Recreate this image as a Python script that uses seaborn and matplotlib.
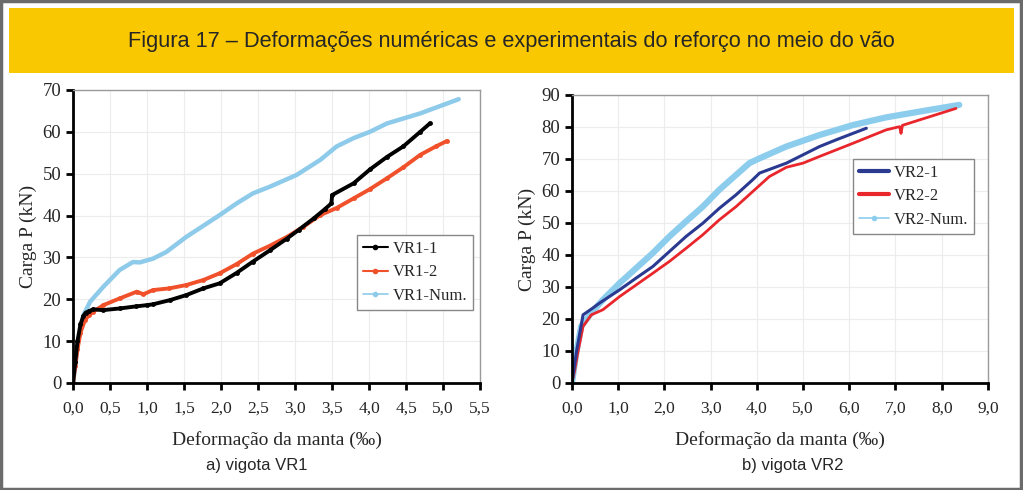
import pandas as pd
import matplotlib.pyplot as plt
import seaborn as sns
from matplotlib.lines import Line2D
from matplotlib.patches import Rectangle
from matplotlib.ticker import FuncFormatter

# dados - vigota VR1
vr1_1_x = [0, 0.03, 0.06, 0.1, 0.14, 0.17, 0.22, 0.27, 0.4, 0.63, 0.85, 1.0, 1.08, 1.31, 1.53,
           1.76, 1.98, 2.21, 2.43, 2.66, 2.89, 3.05, 3.25, 3.4, 3.49, 3.5, 3.79, 4.01, 4.24,
           4.46, 4.69, 4.82]
vr1_1_y = [0, 5, 10, 14, 16, 16.8, 17.2, 17.6, 17.4, 17.8, 18.3, 18.6, 18.8, 19.8, 21,
           22.6, 23.8, 26.3, 29, 31.7, 34.5, 36.6, 39.3, 41.5, 42.9, 44.9, 47.7, 51, 54,
           56.5, 60, 62]
vr1_2_x = [0, 0.03, 0.06, 0.1, 0.16, 0.22, 0.27, 0.41, 0.63, 0.86, 0.95, 1.08, 1.3, 1.53,
           1.76, 1.98, 2.21, 2.43, 2.66, 2.89, 3.11, 3.34, 3.56, 3.79, 4.01, 4.24, 4.46,
           4.69, 4.9, 5.05]
vr1_2_y = [0, 4, 8, 12, 15, 16.3, 17, 18.6, 20.2, 21.8, 21.2, 22.2, 22.6, 23.4,
           24.6, 26.2, 28.4, 30.9, 32.8, 34.9, 37.3, 40.1, 41.8, 44.1, 46.3, 48.9, 51.5,
           54.5, 56.5, 57.8]
vr1_num_x = [0, 0.03, 0.06, 0.1, 0.14, 0.23, 0.41, 0.63, 0.81, 0.9, 1.08, 1.26, 1.53, 1.98,
             2.21, 2.43, 2.66, 3.02, 3.34, 3.56, 3.79, 4.01, 4.24, 4.69, 5.21]
vr1_num_y = [0, 4, 9, 13, 16.2, 19.4, 23, 27, 28.9, 28.8, 29.7, 31.3, 34.9, 40.1,
             42.9, 45.3, 46.9, 49.7, 53.3, 56.5, 58.5, 60, 62, 64.4, 67.8]

# vigota VR2
vr2_1_x = [0, 0.05, 0.1, 0.17, 0.24, 0.45, 0.6, 1.03, 1.39, 1.75, 2.11, 2.47, 2.83, 3.19,
           3.55, 3.91, 4.06, 4.64, 5.0, 5.36, 5.72, 6.08, 6.37]
vr2_1_y = [0, 5, 10, 15.6, 21.3, 23.4, 25, 29.1, 32.8, 36.4, 41.1, 45.8, 49.9, 54.6,
           58.8, 63.5, 65.6, 68.7, 71.3, 73.9, 76, 78, 79.6]
vr2_2_x = [0, 0.06, 0.12, 0.24, 0.42, 0.67, 1.03, 1.75, 2.11, 2.47, 2.83, 3.19, 3.55, 3.91,
           4.27, 4.64, 5.0, 5.36, 6.08, 6.44, 6.8, 7.09, 7.12, 7.15, 7.52, 8.31]
vr2_2_y = [0, 4, 9, 17.7, 21.3, 22.9, 27, 34.3, 38, 42.1, 46.3, 51, 55.1, 59.8,
           64.5, 67.4, 68.7, 70.8, 74.9, 77, 79.1, 80.1, 78, 80.5, 82.2, 85.8]
vr2_num_x = [0, 0.05, 0.1, 0.2, 0.42, 0.67, 1.03, 1.75, 2.11, 2.47, 2.83, 3.19, 3.55, 3.84,
             4.06, 4.64, 5.36, 6.08, 6.8, 7.52, 8.38]
vr2_num_y = [0, 5, 10, 17.7, 21.9, 26, 31.2, 40.6, 45.8, 50.5, 55.1, 60.4, 65, 68.7,
             70.2, 73.9, 77.5, 80.6, 83, 84.8, 86.9]

titulo = "Figura 17 – Deformações numéricas e experimentais do reforço no meio do vão"
xlabel = "Deformação da manta (‰)"
ylabel = "Carga P (kN)"

sns.set_style("whitegrid")
plt.rcParams['font.family'] = ['Liberation Serif', 'DejaVu Serif']
SANS = ['Liberation Sans Narrow', 'Liberation Sans', 'DejaVu Sans']

fig = plt.figure(figsize=(10.23, 4.9), dpi=100)

# moldura e faixa amarela do titulo
fig.patches.append(Rectangle((0.001, 0.002), 0.997, 0.995, transform=fig.transFigure,
                             fill=False, edgecolor='#6b6b6b', linewidth=2.5))
fig.patches.append(Rectangle((0.0088, 0.851), 0.9824, 0.1327, transform=fig.transFigure,
                             facecolor='#FAC800', edgecolor='none'))
fig.text(0.5, 0.916, titulo, ha='center', va='center', fontsize=15.7, family=SANS)

ax1 = fig.add_axes([0.0714, 0.2184, 0.398, 0.598])
ax2 = fig.add_axes([0.5591, 0.2184, 0.4066, 0.5878])


def curva(ax, x, y, cor, lw, marker=None, ms=0):
    df = pd.DataFrame({'x': x, 'y': y})
    sns.lineplot(data=df, x='x', y='y', ax=ax, color=cor, linewidth=lw, sort=False,
                 estimator=None, marker=marker, markersize=ms, markeredgewidth=0)


curva(ax1, vr1_num_x, vr1_num_y, '#8ecbea', 3.2)
curva(ax1, vr1_2_x, vr1_2_y, '#f0502a', 2.8, 'o', 3.5)
curva(ax1, vr1_1_x, vr1_1_y, '#000000', 2.8, 'o', 3.5)

curva(ax2, vr2_num_x, vr2_num_y, '#8ccdee', 4.5)
curva(ax2, vr2_2_x, vr2_2_y, '#e8262b', 2.0)
curva(ax2, vr2_1_x, vr2_1_y, '#2b3a91', 2.2)

fmt = FuncFormatter(lambda v, p: f"{v:.1f}".replace('.', ','))

for ax, xmax, xstep, ymax in [(ax1, 5.5, 0.5, 70), (ax2, 9.0, 1.0, 90)]:
    ax.set_xlim(0, xmax)
    ax.set_ylim(0, ymax)
    ax.set_xticks([i * xstep for i in range(int(round(xmax / xstep)) + 1)])
    ax.set_yticks(range(0, ymax + 1, 10))
    ax.xaxis.set_major_formatter(fmt)
    ax.grid(True, color='#ececec', linewidth=0.8)
    for s in ['left', 'bottom']:
        ax.spines[s].set_color('black')
        ax.spines[s].set_linewidth(2)
    for s in ['top', 'right']:
        ax.spines[s].set_color('#9a9a9a')
        ax.spines[s].set_linewidth(1)
    ax.tick_params(axis='both', direction='out', length=5, width=2, color='black',
                   labelsize=12.5, bottom=True, left=True)
    ax.tick_params(axis='y', labelsize=13.5)
    ax.tick_params(axis='x', pad=8)
    ax.set_xlabel(xlabel, fontsize=14, labelpad=10)
    ax.set_ylabel(ylabel, fontsize=14, labelpad=4)

h1 = [Line2D([], [], color='#000000', lw=1.5, marker='o', ms=3),
      Line2D([], [], color='#f0502a', lw=1.5, marker='o', ms=3),
      Line2D([], [], color='#8ecbea', lw=1.2, marker='o', ms=3)]
ax1.legend(h1, ['VR1-1', 'VR1-2', 'VR1-Num.'], loc='upper left',
           bbox_to_anchor=(0.697, 0.505), fontsize=12, frameon=True, fancybox=False,
           edgecolor='#888888', framealpha=1, handlelength=1.5, handletextpad=0.3,
           labelspacing=0.45, borderpad=0.35, borderaxespad=0)

h2 = [Line2D([], [], color='#2b3a91', lw=3),
      Line2D([], [], color='#e8262b', lw=3),
      Line2D([], [], color='#8ccdee', lw=1.2, marker='o', ms=3)]
ax2.legend(h2, ['VR2-1', 'VR2-2', 'VR2-Num.'], loc='upper left',
           bbox_to_anchor=(0.676, 0.778), fontsize=12, frameon=True, fancybox=False,
           edgecolor='#888888', framealpha=1, handlelength=1.8, handletextpad=0.3,
           labelspacing=0.45, borderpad=0.35, borderaxespad=0)

fig.text(0.251, 0.051, "a) vigota VR1", ha='center', va='center', fontsize=12, family=SANS)
fig.text(0.775, 0.051, "b) vigota VR2", ha='center', va='center', fontsize=12, family=SANS)

fig.savefig("out.png", dpi=100)
